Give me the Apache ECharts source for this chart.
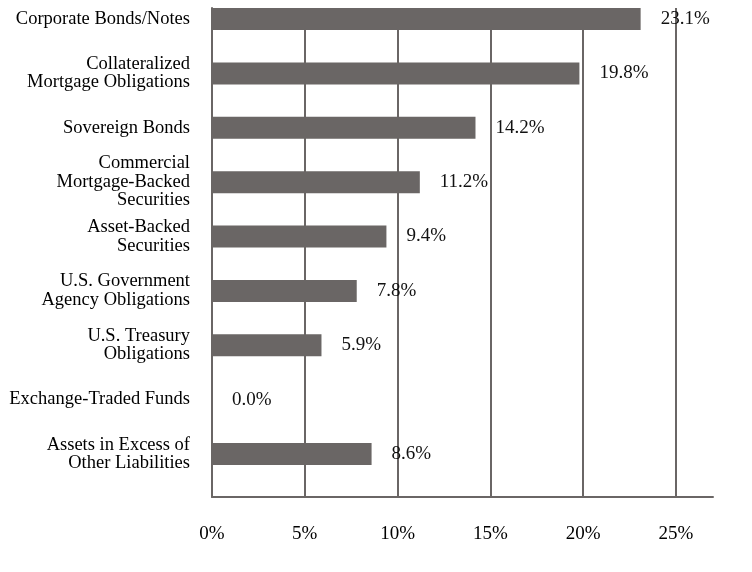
<!DOCTYPE html>
<html>
<head>
<meta charset="utf-8">
<script src="https://cdn.jsdelivr.net/npm/echarts@6/dist/echarts.min.js"></script>
<style>
  html, body { margin: 0; padding: 0; background: #fff; }
  #chart { width: 752px; height: 572px; }
</style>
</head>
<body>
<div id="chart"></div>
<script>
const categories = [
  'Corporate Bonds/Notes',
  'Collateralized\nMortgage Obligations',
  'Sovereign Bonds',
  'Commercial\nMortgage-Backed\nSecurities',
  'Asset-Backed\nSecurities',
  'U.S. Government\nAgency Obligations',
  'U.S. Treasury\nObligations',
  'Exchange-Traded Funds',
  'Assets in Excess of\nOther Liabilities'
];
const weights = [23.1, 19.8, 14.2, 11.2, 9.4, 7.8, 5.9, 0.0, 8.6];

const serif = '"Liberation Serif", "DejaVu Serif", serif';
const ink = '#6a6665';

// grid 0 carries the frame (axis lines, grid lines, tick labels);
// grid 1 carries the bars and category labels (bar centres from first to last row)
const chart = echarts.init(document.getElementById('chart'));
chart.setOption({
  animation: false,
  textStyle: { fontFamily: serif },
  grid: [
    { left: 212, right: 39, top: 8, bottom: 75, containLabel: false },
    { left: 212, right: 39, top: 19, bottom: 118, containLabel: false }
  ],
  xAxis: [
    {
      gridIndex: 0,
      type: 'value',
      min: 0,
      max: 27,
      interval: 5,
      axisLine: { show: true, lineStyle: { color: ink, width: 2 } },
      axisTick: { show: false },
      axisLabel: {
        showMaxLabel: false,
        margin: 28,
        fontSize: 19,
        color: '#000',
        fontFamily: serif,
        formatter: (v) => (v % 5 === 0 ? v + '%' : '')
      },
      splitLine: {
        show: true,
        showMinLine: false,
        showMaxLine: false,
        lineStyle: { color: ink, width: 2 }
      }
    },
    {
      gridIndex: 1,
      type: 'value',
      min: 0,
      max: 27,
      interval: 5,
      axisLine: { show: false },
      axisTick: { show: false },
      axisLabel: { show: false },
      splitLine: { show: false }
    }
  ],
  yAxis: [
    {
      gridIndex: 0,
      type: 'category',
      inverse: true,
      data: categories,
      axisLine: { show: true, lineStyle: { color: ink, width: 2 } },
      axisTick: { show: false },
      axisLabel: { show: false }
    },
    {
      gridIndex: 1,
      type: 'category',
      inverse: true,
      boundaryGap: false,
      data: categories,
      axisLine: { show: false },
      axisTick: { show: false },
      axisLabel: {
        margin: 22,
        fontSize: 18.5,
        lineHeight: 18.5,
        color: '#000',
        fontFamily: serif
      }
    }
  ],
  series: [
    {
      name: 'Weight',
      type: 'bar',
      xAxisIndex: 1,
      yAxisIndex: 1,
      data: weights,
      barWidth: 22,
      clip: false,
      itemStyle: { color: ink },
      z: 3,
      label: {
        show: true,
        position: 'right',
        distance: 20,
        fontSize: 19,
        color: '#111',
        fontFamily: serif,
        formatter: (p) => p.value.toFixed(1) + '%'
      }
    }
  ]
});
</script>
</body>
</html>
